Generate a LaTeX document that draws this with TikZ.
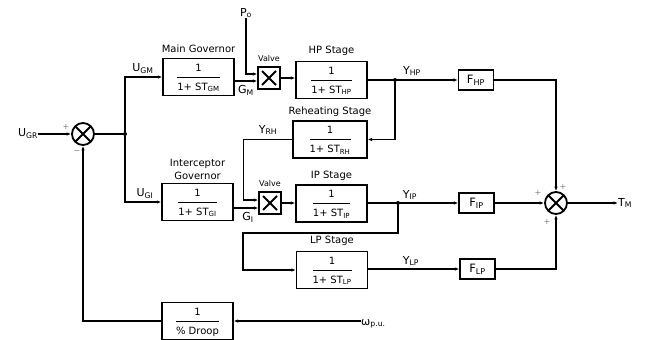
\documentclass[tikz,border=0pt]{standalone}
\usepackage{fontspec}
\setmainfont{DejaVu Sans}
\usetikzlibrary{positioning,arrows.meta,calc}

\newcommand\bfrac[2]{{\renewcommand\arraystretch{1.5}\setlength\arrayrulewidth{0.9pt}\begin{tabular}{@{}c@{}}#1\\\hline #2\end{tabular}}}
\newcommand\sig[2]{#1\textsubscript{#2}}

\tikzset{
  blk/.style={draw,line width=1.3pt,minimum width=71pt,minimum height=37pt,inner sep=0pt},
  fblk/.style={draw,line width=1.3pt,minimum width=35pt,minimum height=20pt,inner sep=0pt,font=\fontsize{11.5}{12}\selectfont},
  valvebox/.style={draw,line width=1.3pt,minimum size=22pt,inner sep=0pt,
    path picture={\draw[line width=2pt]
      ($(path picture bounding box.south west)+(4pt,4pt)$)--($(path picture bounding box.north east)+(-4pt,-4pt)$)
      ($(path picture bounding box.north west)+(4pt,-4pt)$)--($(path picture bounding box.south east)+(-4pt,4pt)$);}},
  sumj/.style={circle,draw,line width=1.8pt,minimum size=22pt,inner sep=0pt,
    path picture={\draw[line width=1.8pt]
      (path picture bounding box.south west)--(path picture bounding box.north east)
      (path picture bounding box.north west)--(path picture bounding box.south east);}},
  wire/.style={line width=1.4pt,-{Latex[length=4.5pt,width=3.5pt]}},
  lbl/.style={inner sep=0pt},
  slbl/.style={inner sep=0pt,font=\fontsize{11}{12}\selectfont},
  pm/.style={text=gray,inner sep=0pt,font=\fontsize{8}{8}\selectfont},
  jdot/.style={circle,fill,inner sep=0pt,minimum size=4pt}
}

\begin{document}
\begin{tikzpicture}[x=1pt,y=-1pt,font=\fontsize{10}{12}\selectfont]
  \useasboundingbox (0,0) rectangle (648,340);
  % blocks
  \node[blk] (mg) at (198.5,77) {\bfrac{1}{1+ ST\textsubscript{GM}}};
  \node[blk] (ig) at (197.5,202) {\bfrac{1}{1+ ST\textsubscript{GI}}};
  \node[blk] (hp) at (331.5,80) {\bfrac{1}{1+ ST\textsubscript{HP}}};
  \node[blk,minimum width=74pt] (rh) at (330,139.5) {\bfrac{1}{1+ ST\textsubscript{RH}}};
  \node[blk] (ip) at (331.5,203.5) {\bfrac{1}{1+ ST\textsubscript{IP}}};
  \node[blk] (lp) at (332,270) {\bfrac{1}{1+ ST\textsubscript{LP}}};
  \node[blk] (droop) at (197.5,321) {\bfrac{1}{\% Droop}};
  \node[fblk] (fhp) at (476,80) {\sig{F}{HP}};
  \node[fblk] (fip) at (476.5,203) {\sig{F}{IP}};
  \node[fblk] (flp) at (477.5,269) {\sig{F}{LP}};
  \node[valvebox] (vM) at (269,78) {};
  \node[valvebox] (vI) at (270,203) {};
  \node[sumj] (sumA) at (83,134) {};
  \node[sumj] (sumB) at (556,203) {};
  \node[jdot] (jn) at (125,134) {};
  \node[jdot] (jhp) at (395,80) {};
  \node[jdot] (jip) at (398,203) {};
  \coordinate (klp) at (243,233);
  % titles
  \node[lbl,above=5pt of mg] (tmg) {Main Governor};
  \node[lbl,above=3pt of ig,align=center,font=\fontsize{10}{13}\selectfont] (tig) {Interceptor\\Governor};
  \node[lbl,above=5pt of hp] (thp) {HP Stage};
  \node[lbl,above=4pt of rh] (trh) {Reheating Stage};
  \node[lbl,above=4pt of ip] (tip) {IP Stage};
  \node[lbl,above=5pt of lp] (tlp) {LP Stage};
  \node[lbl,above=5pt of vM,font=\fontsize{8}{9}\selectfont] (tvM) {Valve};
  \node[lbl,above=5pt of vI,font=\fontsize{8}{9}\selectfont] (tvI) {Valve};
  % signal labels
  \node[slbl] (ugr) at (28,134) {\sig{U}{GR}};
  \node[slbl] (ugm) at (143,69) {\sig{U}{GM}};
  \node[slbl] (ugi) at (145,194) {\sig{U}{GI}};
  \node[slbl] (gm) at (246,90) {\sig{G}{M}};
  \node[slbl] (gi) at (248,217) {\sig{G}{I}};
  \node[slbl] (po) at (246,13) {\sig{P}{o}};
  \node[slbl] (yhp) at (412,71) {\sig{Y}{HP}};
  \node[slbl] (yrh) at (268,130) {\sig{Y}{RH}};
  \node[slbl] (yip) at (410,195) {\sig{Y}{IP}};
  \node[slbl] (ylp) at (411,261) {\sig{Y}{LP}};
  \node[slbl,anchor=west] (tm) at (618,203) {\sig{T}{M}};
  \node[slbl,anchor=base west] (omega) at (361,325) {ω\textsubscript{p.u.}};
  \node[pm] at (66,127) {+}; \node[pm] at (77,152) {−};
  \node[pm] at (563,187) {+}; \node[pm] at (538,193) {+}; \node[pm] at (547,222) {+};
  % connectors
  \draw[wire] (ugr.east) -- (sumA.west);
  \draw[line width=1.4pt] (sumA.east) -- (jn);
  \draw[wire] (jn) |- (mg.west);
  \draw[wire] (jn) |- (ig.west);
  \draw[wire] ([yshift=-4pt]mg.east) -- ([yshift=-4pt]mg.east -| vM.west);
  \draw[wire] (po.south) |- ([yshift=4pt]vM.west);
  \draw[wire] (vM.east) -- (vM.east -| hp.west);
  \draw[wire] (hp.east) -- (fhp.west);
  \draw[wire] (jhp) |- (rh.east);
  \draw[wire] (rh.west) -- ++(-49,0) |- ([yshift=3pt]vI.west);
  \draw[wire] ([yshift=-6pt]ig.east) -- ([yshift=-6pt]ig.east -| vI.west);
  \draw[wire] (vI.east) -- (vI.east -| ip.west);
  \draw[wire] (ip.east |- fip.west) -- (fip.west);
  \draw[wire] (jip) |- (klp) |- (lp.west);
  \draw[wire] (lp.east |- flp.west) -- (flp.west);
  \draw[wire] (fhp.east) -| (sumB.north);
  \draw[wire] (fip.east) -- (sumB.west);
  \draw[wire] (flp.east) -| (sumB.south);
  \draw[wire] (sumB.east) -- (tm.west);
  \draw[wire] (omega.west |- droop.east) -- (droop.east);
  \draw[wire] (droop.west) -| (sumA.south);
\end{tikzpicture}
\end{document}
